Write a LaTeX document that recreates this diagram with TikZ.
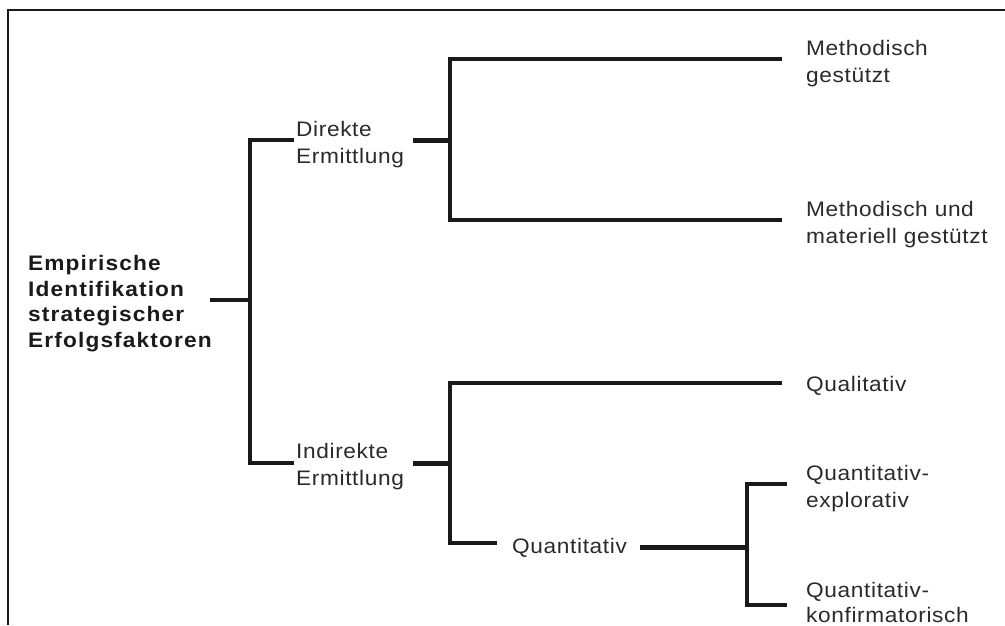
\documentclass[tikz,border=0pt]{standalone}
\usepackage{fontspec}
\setmainfont{Liberation Sans}[FakeStretch=1.08, LetterSpace=3]
\definecolor{ln}{HTML}{1A1A1A}
\definecolor{txt}{HTML}{2A2A2A}
\tikzset{
  lbl/.style={anchor=base west, inner sep=0pt, align=left, text=txt,
    font=\fontsize{21}{27}\selectfont},
  rootlbl/.style={lbl, text=ln,
    font=\bfseries\addfontfeatures{LetterSpace=5.4}\fontsize{21}{25.5}\selectfont},
  branch/.style={draw=ln, line width=3.2pt, line join=miter, line cap=rect},
  stub/.style={draw=ln, line width=5pt},
  frame/.style={draw=ln, line width=1.8pt},
}
\begin{document}
\begin{tikzpicture}[x=1pt, y=-1pt]
  \useasboundingbox (0,0) rectangle (1005,625);

  % open frame: top and left edges
  \coordinate (fTL) at (8,10);
  \coordinate (fTR) at (1005,10);
  \coordinate (fBL) at (8,625);
  \draw[frame] (fTR) -- (fTL) -- (fBL);

  % labels (placed by the baseline of their last line)
  \node[rootlbl] (root) at (28,347) {Empirische\\Identifikation\\strategischer\\Erfolgsfaktoren};
  \node[lbl] (dir)   at (296,163) {Direkte\\Ermittlung};
  \node[lbl] (ind)   at (296,485) {Indirekte\\Ermittlung};
  \node[lbl] (meth)  at (806,82)  {Methodisch\\gestützt};
  \node[lbl] (mat)   at (806,243) {Methodisch und\\materiell gestützt};
  \node[lbl] (qual)  at (806,391) {Qualitativ};
  \node[lbl] (quant) at (512,553) {Quantitativ};
  \node[lbl] (qexp)  at (806,507) {Quantitativ-\\explorativ};
  \node[lbl, font=\fontsize{21}{25}\selectfont] (qkon) at (806,622) {Quantitativ-\\konfirmatorisch};

  % junction points
  \coordinate (rootOut) at (212,300);
  \coordinate (j0)      at (250,300);
  \coordinate (dirIn)   at (292,140);
  \coordinate (indIn)   at (292,463);
  \coordinate (dirOut)  at (413,140);
  \coordinate (j1)      at (450,140);
  \coordinate (methIn)  at (780,59);
  \coordinate (matIn)   at (780,220);
  \coordinate (indOut)  at (413,463);
  \coordinate (j2)      at (450,463);
  \coordinate (qualIn)  at (780,383);
  \coordinate (quantIn) at (495,543);
  \coordinate (quantOut) at (640,547);
  \coordinate (j3)      at (747,547);
  \coordinate (qexpIn)  at (785,484);
  \coordinate (qkonIn)  at (785,605);

  % first level
  \draw[branch, line width=3.4pt] (rootOut) -- (j0);
  \draw[branch] (dirIn) -| (j0) |- (indIn);

  % direct determination
  \draw[stub] (dirOut) -- (j1);
  \draw[branch] (methIn) -| (j1) |- (matIn);

  % indirect determination
  \draw[stub] (indOut) -- (j2);
  \draw[branch] (qualIn) -| (j2) |- (quantIn);

  % quantitative
  \draw[stub] (quantOut) -- (j3);
  \draw[branch] (qexpIn) -| (j3) |- (qkonIn);
\end{tikzpicture}
\end{document}
